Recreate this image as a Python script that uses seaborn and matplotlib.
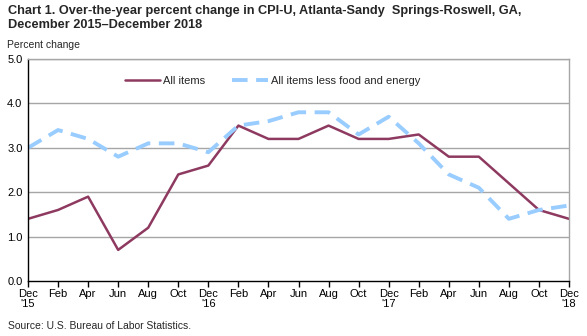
import matplotlib
matplotlib.use("Agg")
import matplotlib.pyplot as plt
import seaborn as sns
import pandas as pd

months = ["Dec\n'15", "Feb", "Apr", "Jun", "Aug", "Oct", "Dec\n'16", "Feb", "Apr", "Jun",
          "Aug", "Oct", "Dec\n'17", "Feb", "Apr", "Jun", "Aug", "Oct", "Dec\n'18"]
all_items = [1.4, 1.6, 1.9, 0.7, 1.2, 2.4, 2.6, 3.5, 3.2, 3.2, 3.5, 3.2, 3.2, 3.3, 2.8, 2.8, 2.2, 1.6, 1.4]
core = [3.0, 3.4, 3.2, 2.8, 3.1, 3.1, 2.9, 3.5, 3.6, 3.8, 3.8, 3.3, 3.7, 3.1, 2.4, 2.1, 1.4, 1.6, 1.7]
yticks = [0.0, 1.0, 2.0, 3.0, 4.0, 5.0]

sns.set_theme(style="white")
plt.rcParams['font.family'] = ['Liberation Sans', 'DejaVu Sans']

idx = list(range(len(months)))
df = pd.DataFrame({"idx": idx, "All items": all_items, "All items less food and energy": core})

fig = plt.figure(figsize=(5.87, 3.36), dpi=100)
ax = fig.add_axes([28/587, 1-281/336, (569-28)/587, (281-59)/336])

for v in yticks[1:]:
    ax.axhline(v, color="#A6A6A6", lw=1.0, zorder=0)

sns.lineplot(data=df, x="idx", y="All items", ax=ax, color="#8E3A60", lw=1.8, label="All items")
sns.lineplot(data=df, x="idx", y="All items less food and energy", ax=ax, color="#99CCFF",
             lw=2.8, dashes=False, label="All items less food and energy")
ax.lines[-1].set_dashes([4, 2.2])

ax.set_xlim(0, len(months)-1)
ax.set_ylim(0, 5)
ax.set_xticks(idx)
ax.set_xticklabels(months, fontsize=8, color="black", linespacing=1.0)
ax.set_yticks(yticks)
ax.set_yticklabels([f"{v:.1f}" for v in yticks], fontsize=8, color="black")
ax.set_xlabel("")
ax.set_ylabel("")
ax.tick_params(axis="x", direction="out", length=4, width=1, color="black", pad=2, bottom=True)
ax.tick_params(axis="y", length=0, pad=4)

for s in ["top", "right"]:
    ax.spines[s].set_color("#A6A6A6")
    ax.spines[s].set_linewidth(1.0)
for s in ["left", "bottom"]:
    ax.spines[s].set_color("black")
    ax.spines[s].set_linewidth(1.0)

leg = ax.legend(loc="upper left", bbox_to_anchor=(0.16, 0.97), ncol=2, frameon=False,
                fontsize=8, handlelength=3.2, columnspacing=2.4, handletextpad=0.3)

fig.text(8/587, 1-5/336, "Chart 1. Over-the-year percent change in CPI-U, Atlanta-Sandy  Springs-Roswell, GA,\nDecember 2015\u2013December 2018",
         fontsize=9.2, fontweight="bold", va="top", ha="left", linespacing=1.25)
fig.text(7/587, 1-45/336, "Percent change", fontsize=7.5, va="center", ha="left")
fig.text(8/587, 1-326/336, "Source: U.S. Bureau of Labor Statistics.", fontsize=7.5, va="center", ha="left")

fig.savefig("out.png", dpi=100)
